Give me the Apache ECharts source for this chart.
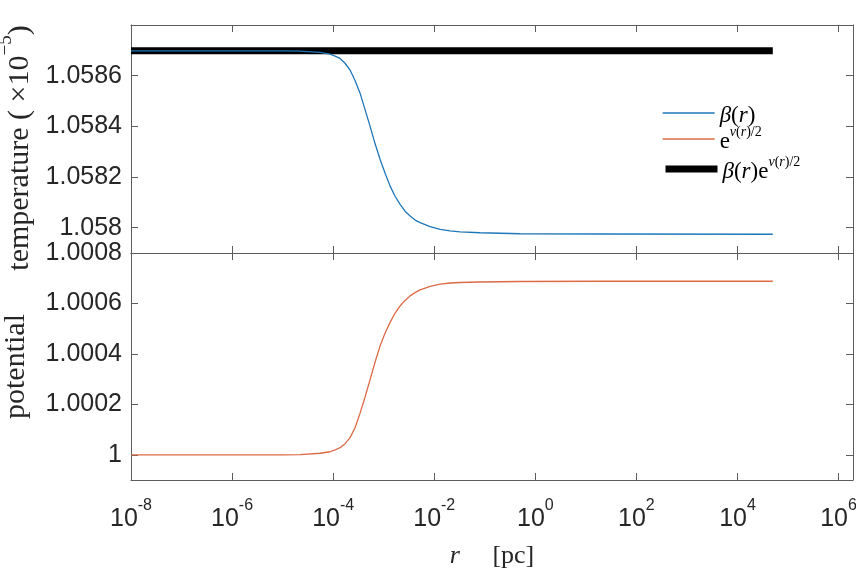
<!DOCTYPE html>
<html>
<head>
<meta charset="utf-8">
<script src="https://cdn.jsdelivr.net/npm/echarts@6/dist/echarts.min.js"></script>
<style>
  html, body { margin: 0; padding: 0; background: #fff; }
  #chart { width: 856px; height: 568px; }
</style>
</head>
<body>
<div id="chart"></div>
<script>
// Radius samples r [pc]
const radius = [1e-8, 1e-6, 1e-5, 2.21e-5, 5.51e-5, 8.69e-5, 1.09e-4, 1.37e-4, 1.72e-4, 2.16e-4,
                2.72e-4, 3.41e-4, 4.29e-4, 5.38e-4, 6.76e-4, 8.49e-4, 1.07e-3, 1.34e-3, 1.68e-3, 2.11e-3,
                2.65e-3, 3.33e-3, 4.18e-3, 5.25e-3, 8.28e-3, 1.31e-2, 2.06e-2, 3.25e-2, 8.09e-2, 0.5,
                20, 5e4];
// Local temperature beta(r), in units of 1e-5
const beta = [1.058698, 1.058698, 1.058698, 1.058697, 1.058692, 1.058685, 1.058677, 1.058668, 1.058649, 1.058622,
              1.058580, 1.058531, 1.058465, 1.058400, 1.058331, 1.058269, 1.058214, 1.058164, 1.058124, 1.058092,
              1.058065, 1.058046, 1.058030, 1.058020, 1.058004, 1.057993, 1.057987, 1.057983, 1.057980, 1.057976,
              1.057975, 1.057974];
// Metric factor e^{nu(r)/2}
const redshift = [1.000000, 1.000000, 1.000000, 1.000001, 1.000006, 1.000012, 1.000019, 1.000028, 1.000044, 1.000068,
                  1.000108, 1.000165, 1.000230, 1.000298, 1.000368, 1.000432, 1.000484, 1.000525, 1.000562, 1.000590,
                  1.000612, 1.000630, 1.000643, 1.000654, 1.000668, 1.000677, 1.000681, 1.000683, 1.000685, 1.000687,
                  1.000688, 1.000688];
// Tolman product beta(r) e^{nu(r)/2}, constant over the profile
const tolmanRadius = [1e-8, 5e4];
const tolman = [1.058698, 1.058698];

// Axis ticks
const temperatureTicks = [1.058, 1.0582, 1.0584, 1.0586];
const potentialTicks = [1, 1.0002, 1.0004, 1.0006, 1.0008];

const axisColor = '#5c5c5c';
const labelColor = '#262626';
const sansFont = 'Liberation Sans';
const serifFont = 'Liberation Serif';

const pairs = (xs, ys) => xs.map((x, i) => [x, ys[i]]);
const fmtTick = v => String(+(+v).toFixed(4));

// Decade labels 10^k; the axis end (not a whole decade) stays unlabelled
function decadeLabel(v) {
  const e = Math.log10(v);
  const k = Math.round(e);
  if (Math.abs(e - k) > 1e-6) return '';
  return '{b|10}{e|' + k + '}';
}

function logXAxis(gridIndex, position, withLabels) {
  const ax = {
    type: 'log', logBase: 10, gridIndex, position,
    min: 1e-8, max: 1.93e6, interval: 2,
    axisLine: { show: true, onZero: false, lineStyle: { color: axisColor, width: 1 } },
    axisTick: { show: true, inside: true, length: 7, lineStyle: { color: axisColor, width: 1 } },
    minorTick: { show: false },
    splitLine: { show: false },
    axisLabel: { show: false }
  };
  if (withLabels) {
    ax.axisLabel = {
      show: true, margin: 18, showMinLabel: true, showMaxLabel: false, hideOverlap: false,
      formatter: decadeLabel,
      rich: {
        b: { fontFamily: sansFont, fontSize: 25, lineHeight: 34, verticalAlign: 'bottom', color: labelColor },
        e: { fontFamily: sansFont, fontSize: 16, lineHeight: 16, verticalAlign: 'top', color: labelColor }
      }
    };
    ax.name = '{i|r}{n|     [pc]}';
    ax.nameLocation = 'middle';
    ax.nameGap = 63;
    ax.nameTextStyle = {
      rich: {
        i: { fontFamily: serifFont, fontStyle: 'italic', fontSize: 26, color: labelColor },
        n: { fontFamily: serifFont, fontSize: 26, color: labelColor }
      }
    };
  }
  return ax;
}

function valueYAxis(gridIndex, position, min, max, ticks, withLabels) {
  return {
    type: 'value', gridIndex, position, min, max, scale: true,
    axisLine: { show: true, onZero: false, lineStyle: { color: axisColor, width: 1 } },
    axisTick: { show: true, inside: true, length: 7, customValues: ticks, lineStyle: { color: axisColor, width: 1 } },
    splitLine: { show: false },
    axisLabel: {
      show: withLabels, customValues: ticks, margin: 9,
      fontFamily: sansFont, fontSize: 25, color: labelColor,
      formatter: fmtTick
    }
  };
}

const yTop = valueYAxis(0, 'left', 1.0579, 1.0588, temperatureTicks, true);
yTop.name = '{n|temperature ( ×10}{s|−5}{n|)}';
yTop.nameLocation = 'middle';
yTop.nameGap = 81;
yTop.nameTextStyle = {
  padding: [0, 18, 0, 0],
  rich: {
    n: { fontFamily: serifFont, fontSize: 30, lineHeight: 38, verticalAlign: 'bottom', color: labelColor },
    s: { fontFamily: serifFont, fontSize: 19, lineHeight: 19, verticalAlign: 'top', color: labelColor }
  }
};

const yBottom = valueYAxis(1, 'left', 0.9999, 1.0008, potentialTicks, true);
yBottom.name = 'potential';
yBottom.nameLocation = 'middle';
yBottom.nameGap = 81;
yBottom.nameTextStyle = { fontFamily: serifFont, fontSize: 30, lineHeight: 38, color: labelColor };

const legendRich = {
  i: { fontFamily: serifFont, fontStyle: 'italic', fontSize: 23, lineHeight: 28, verticalAlign: 'bottom', color: '#000' },
  n: { fontFamily: serifFont, fontSize: 23, lineHeight: 28, verticalAlign: 'bottom', color: '#000' },
  si: { fontFamily: serifFont, fontStyle: 'italic', fontSize: 14, lineHeight: 14, verticalAlign: 'top', color: '#000' },
  sn: { fontFamily: serifFont, fontSize: 14, lineHeight: 14, verticalAlign: 'top', color: '#000' }
};
const legendText = {
  'beta': '{i|β}{n|(}{i|r}{n|)}',
  'redshift': '{n|e}{si|ν}{sn|(}{si|r}{sn|)/2}',
  'tolman': '{i|β}{n|(}{i|r}{n|)e}{si|ν}{sn|(}{si|r}{sn|)/2}'
};
function legendRow(name, top) {
  return {
    data: [name], left: 662, top, orient: 'vertical',
    itemWidth: 52, itemHeight: 14, padding: 0,
    lineStyle: { width: 'inherit' },
    itemStyle: { opacity: 0 },
    formatter: n => legendText[n],
    textStyle: { rich: legendRich },
    selectedMode: false
  };
}

const blue = '#1f77b9';
const orange = '#dc6a45';

const chart = echarts.init(document.getElementById('chart'), null, { renderer: 'canvas' });
chart.setOption({
  backgroundColor: '#fff',
  animation: false,
  grid: [
    { left: 131, top: 25, width: 722, height: 228, show: false, outerBoundsMode: 'none', containLabel: false },
    { left: 131, top: 253, width: 722, height: 227, show: false, outerBoundsMode: 'none', containLabel: false }
  ],
  xAxis: [
    logXAxis(0, 'bottom', false),
    logXAxis(0, 'top', false),
    logXAxis(1, 'bottom', true),
    logXAxis(1, 'top', false)
  ],
  yAxis: [
    yTop,
    valueYAxis(0, 'right', 1.0579, 1.0588, temperatureTicks, false),
    yBottom,
    valueYAxis(1, 'right', 0.9999, 1.0008, potentialTicks, false)
  ],
  legend: [
    legendRow('beta', 104),
    legendRow('redshift', 125),
    legendRow('tolman', 155)
  ],
  series: [
    {
      name: 'tolman', type: 'line', xAxisIndex: 0, yAxisIndex: 0, z: 2,
      data: pairs(tolmanRadius, tolman), symbol: 'none',
      lineStyle: { color: '#000', width: 7 }, itemStyle: { color: '#000' }
    },
    {
      name: 'beta', type: 'line', xAxisIndex: 0, yAxisIndex: 0, z: 3,
      data: pairs(radius, beta), symbol: 'none',
      lineStyle: { color: blue, width: 1.3 }, itemStyle: { color: blue }
    },
    {
      name: 'redshift', type: 'line', xAxisIndex: 2, yAxisIndex: 2, z: 3,
      data: pairs(radius, redshift), symbol: 'none',
      lineStyle: { color: orange, width: 1.3 }, itemStyle: { color: orange }
    }
  ]
});
</script>
</body>
</html>
